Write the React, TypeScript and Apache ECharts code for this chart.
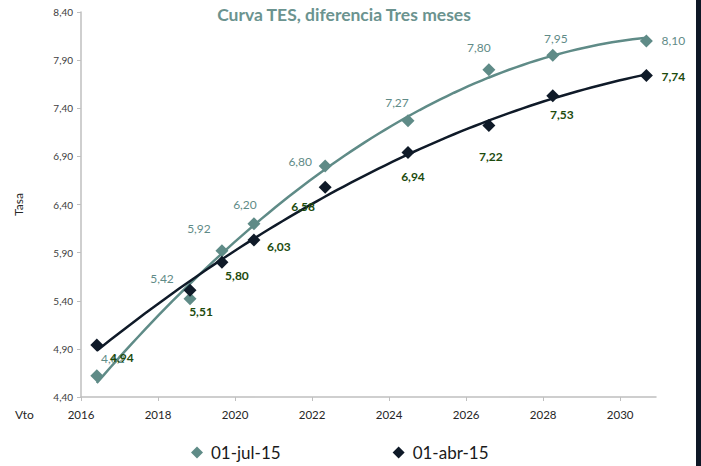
import React, { useEffect, useRef } from 'react';
import * as echarts from 'echarts';

const maturities = [2016.41, 2018.83, 2019.66, 2020.49, 2022.34, 2024.49, 2026.59, 2028.25, 2030.68];
const julRates = [4.62, 5.42, 5.92, 6.2, 6.8, 7.27, 7.8, 7.95, 8.1];
const abrRates = [4.94, 5.51, 5.8, 6.03, 6.58, 6.94, 7.22, 7.53, 7.74];
const seriesNames = ['01-jul-15', '01-abr-15'];
const xTicks = [2016, 2018, 2020, 2022, 2024, 2026, 2028, 2030];
const yTicks = [4.4, 4.9, 5.4, 5.9, 6.4, 6.9, 7.4, 7.9, 8.4];

// label offsets (styling only)
const julOffsets = [[16, -17], [-28, -20], [-23, -22], [-9, -19], [-25, -5], [-11, -18], [-10, -22], [3, -17], [27, 0]];
const abrOffsets = [[25, 12], [11, 21], [15, 13], [25, 6], [-22, 19], [5, 24], [2, 31], [9, 19], [27, 1]];

const LIGHT = '#5f8b87';
const DARK = '#0f1a28';
const DARK_LABEL = '#1d4b0e';
const FONT = 'Lato, "Noto Sans", sans-serif';

function quadFit(xs: number[], ys: number[]) {
  const x0 = xs[0];
  let s0 = 0, s1 = 0, s2 = 0, s3 = 0, s4 = 0, t0 = 0, t1 = 0, t2 = 0;
  xs.forEach((xv, i) => {
    const x = xv - x0;
    const y = ys[i];
    s0 += 1; s1 += x; s2 += x * x; s3 += x * x * x; s4 += x * x * x * x;
    t0 += y; t1 += x * y; t2 += x * x * y;
  });
  const m = [
    [s0, s1, s2, t0],
    [s1, s2, s3, t1],
    [s2, s3, s4, t2],
  ];
  for (let i = 0; i < 3; i++) {
    for (let k = i + 1; k < 3; k++) {
      const f = m[k][i] / m[i][i];
      for (let j = i; j < 4; j++) m[k][j] -= f * m[i][j];
    }
  }
  const c = [0, 0, 0];
  for (let i = 2; i >= 0; i--) {
    let s = m[i][3];
    for (let j = i + 1; j < 3; j++) s -= m[i][j] * c[j];
    c[i] = s / m[i][i];
  }
  const pts: number[][] = [];
  const a = xs[0], b = xs[xs.length - 1];
  const n = 80;
  for (let i = 0; i <= n; i++) {
    const xv = a + ((b - a) * i) / n;
    const x = xv - x0;
    pts.push([xv, c[0] + c[1] * x + c[2] * x * x]);
  }
  return pts;
}

const fmt = (v: number) => v.toFixed(2).replace('.', ',');

export default function App() {
  const ref = useRef<HTMLDivElement>(null);
  useEffect(() => {
    document.body.style.margin = '0';
    if (!ref.current) return;
    const chart = echarts.init(ref.current, undefined, { renderer: 'svg' });
    const mkData = (vals: number[], offs: number[][], color: string, bold: boolean) =>
      vals.map((v, i) => ({
        value: [maturities[i], v],
        label: {
          show: true,
          position: 'inside',
          offset: offs[i],
          formatter: () => fmt(v),
          color,
          fontSize: 12,
          fontWeight: bold ? 'bold' : 'normal',
          fontFamily: FONT,
        },
      }));
    chart.setOption({
      animation: false,
      backgroundColor: '#ffffff',
      textStyle: { fontFamily: FONT },
      grid: { left: 81, right: 45, top: 12, bottom: 69, containLabel: false },
      graphic: [
        {
          type: 'text',
          x: 344,
          y: 5,
          style: {
            text: 'Curva TES, diferencia Tres meses',
            fill: '#6b938f',
            font: `bold 17.5px ${FONT}`,
            textAlign: 'center',
          },
        },
        {
          type: 'text',
          x: 15,
          y: 408,
          style: { text: 'Vto', fill: '#262626', font: `12px ${FONT}` },
        },
        {
          type: 'rect',
          shape: { x: 696, y: 0, width: 5, height: 466 },
          style: { fill: '#0e1726' },
        },
      ],
      legend: {
        data: seriesNames,
        left: 186,
        top: 439,
        icon: 'diamond',
        itemWidth: 12,
        itemHeight: 12,
        itemGap: 112,
        textStyle: { fontSize: 17, color: '#1a1a1a', fontFamily: FONT, padding: [0, 0, 0, 3] },
      },
      xAxis: {
        type: 'value',
        min: 2016,
        max: 2030.93,
        axisLine: { show: true, lineStyle: { color: '#bfbfbf', width: 1.5 } },
        axisTick: { show: true, customValues: xTicks, length: 4, lineStyle: { color: '#bfbfbf' } },
        axisLabel: {
          customValues: xTicks,
          fontSize: 11.5,
          color: '#262626',
          margin: 11,
          fontFamily: FONT,
          formatter: (v: number) => String(Math.round(v)),
        },
        splitLine: { show: false },
      },
      yAxis: {
        type: 'value',
        min: 4.4,
        max: 8.4,
        name: 'Tasa',
        nameLocation: 'middle',
        nameRotate: 90,
        nameGap: 57,
        nameTextStyle: { fontSize: 12, color: '#262626', fontFamily: FONT },
        axisLine: { show: true, lineStyle: { color: '#bfbfbf', width: 1.5 } },
        axisTick: { show: true, customValues: yTicks, length: 4, lineStyle: { color: '#bfbfbf' } },
        axisLabel: {
          customValues: yTicks,
          fontSize: 10,
          color: '#404040',
          margin: 8,
          fontFamily: FONT,
          formatter: (v: number) => fmt(v),
        },
        splitLine: { show: false },
      },
      series: [
        {
          name: 'trend-jul',
          type: 'line',
          data: quadFit(maturities, julRates),
          showSymbol: false,
          silent: true,
          lineStyle: { color: LIGHT, width: 2.5 },
          z: 1,
        },
        {
          name: 'trend-abr',
          type: 'line',
          data: quadFit(maturities, abrRates),
          showSymbol: false,
          silent: true,
          lineStyle: { color: DARK, width: 2.5 },
          z: 1,
        },
        {
          name: seriesNames[0],
          type: 'scatter',
          symbol: 'diamond',
          symbolSize: 13,
          itemStyle: { color: LIGHT, opacity: 1 },
          data: mkData(julRates, julOffsets, LIGHT, false),
          z: 3,
        },
        {
          name: seriesNames[1],
          type: 'scatter',
          symbol: 'diamond',
          symbolSize: 13,
          itemStyle: { color: DARK, opacity: 1 },
          data: mkData(abrRates, abrOffsets, DARK_LABEL, true),
          z: 4,
        },
      ],
    });
    return () => chart.dispose();
  }, []);
  return <div ref={ref} style={{ width: 701, height: 466 }} />;
}
